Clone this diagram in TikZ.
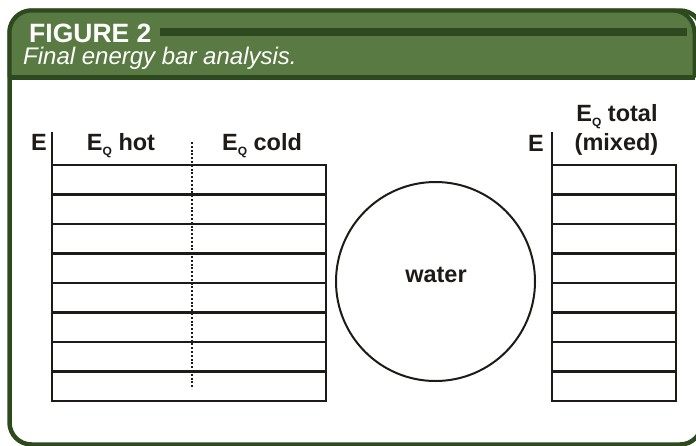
\documentclass[tikz,border=0pt]{standalone}
\usepackage{fontspec}
\setmainfont{Liberation Sans}
\definecolor{hdrgreen}{RGB}{89,122,66}
\definecolor{darkgreen}{RGB}{44,74,30}
\definecolor{ink}{RGB}{30,26,24}
\tikzset{
  lbl/.style={font=\fontsize{23.5}{26}\selectfont\bfseries, text=ink, inner sep=0pt, anchor=base},
  tbl/.style={draw=ink, line width=2.2pt},
  axisline/.style={draw=ink, line width=1.6pt},
}
\newcommand{\EQ}{E\raisebox{-5pt}{\fontsize{12}{12}\selectfont Q}}
\begin{document}
\begin{tikzpicture}[x=1pt,y=-1pt]
\useasboundingbox (0,0) rectangle (696,445);
\fill[white] (0,0) rectangle (696,445);
% body frame
\draw[darkgreen, line width=4.5pt, rounded corners=22pt] (9.5,10.5) rectangle (702,444.5);
% header
\fill[hdrgreen] (9.5,77.5) [rounded corners=22pt]-- (9.5,10.5) -- (694.5,10.5) [sharp corners]-- (694.5,77.5) -- cycle;
\draw[darkgreen, line width=4pt] (9.5,77.5) [rounded corners=22pt]-- (9.5,10.5) -- (694.5,10.5) [sharp corners]-- (694.5,77.5);
\draw[darkgreen, line width=5.5pt] (9.5,77.5) -- (694.5,77.5);
\fill[darkgreen] (160,28) rectangle (687,36);
\node[anchor=base west, inner sep=0pt, text=white, font=\fontsize{26.5}{30}\selectfont\bfseries] (fig) at (29,42) {FIGURE 2};
\node[anchor=base west, inner sep=0pt, text=white, font=\fontsize{24}{26}\selectfont\itshape] (sub) at (23,64.5) {Final energy bar analysis.};
% left table
\foreach \i in {0,...,7} {
  \draw[tbl] (52,{165+29.5*\i}) rectangle (326,{165+29.5*(\i+1)});
}
\draw[axisline] (52,132) -- (52,165);
\draw[ink, line width=2pt, dash pattern=on 2pt off 1.8pt] (192,142) -- (192,389);
\node[lbl] (eL) at (39,150) {E};
\node[lbl] (hot) at (121,150) {\EQ{} hot};
\node[lbl] (cold) at (262,150) {\EQ{} cold};
% circle
\node[draw=ink, line width=2pt, circle, minimum size=199pt, inner sep=0pt] (water) at (435.5,281.5) {};
\node[lbl] (wlbl) at (436,282) {water};
% right table
\foreach \i in {0,...,7} {
  \draw[tbl] (552,{165+29.5*\i}) rectangle (676,{165+29.5*(\i+1)});
}
\draw[axisline] (552,132) -- (552,165);
\node[lbl] (eR) at (536,151) {E};
\node[lbl] (tot) at (617,121) {\EQ{} total};
\node[lbl] (mix) at (616.5,150) {(mixed)};
\end{tikzpicture}
\end{document}
